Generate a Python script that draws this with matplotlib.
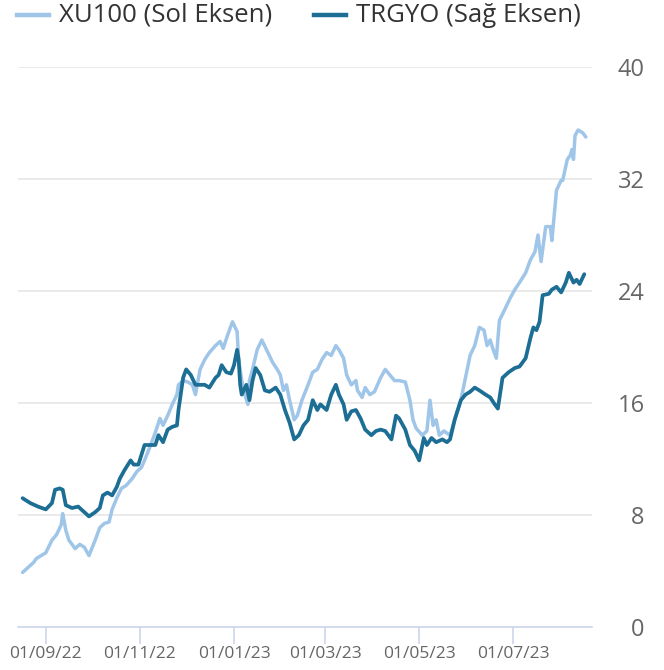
import matplotlib
matplotlib.use("Agg")
import matplotlib.pyplot as plt
import matplotlib.dates as mdates
from matplotlib.lines import Line2D
import pandas as pd

plt.rcParams['font.family'] = ['Open Sans', 'DejaVu Sans']

xu100_dates = ["2022-08-17","2022-08-20","2022-08-24","2022-08-26","2022-08-29","2022-09-01","2022-09-05",
    "2022-09-08","2022-09-11","2022-09-12","2022-09-14","2022-09-16","2022-09-20","2022-09-23","2022-09-26",
    "2022-09-29","2022-10-03","2022-10-06","2022-10-09","2022-10-12","2022-10-14","2022-10-17","2022-10-20",
    "2022-10-23","2022-10-27","2022-10-30","2022-11-02","2022-11-04","2022-11-08","2022-11-11","2022-11-14",
    "2022-11-16","2022-11-19","2022-11-22","2022-11-25","2022-11-26","2022-11-29","2022-12-02","2022-12-05",
    "2022-12-07","2022-12-10","2022-12-13","2022-12-16","2022-12-20","2022-12-23","2022-12-25","2022-12-28",
    "2022-12-31","2023-01-03","2023-01-04","2023-01-06","2023-01-08","2023-01-10","2023-01-11","2023-01-13",
    "2023-01-16","2023-01-19","2023-01-23","2023-01-26","2023-01-29","2023-01-31","2023-02-02","2023-02-04",
    "2023-02-06","2023-02-09","2023-02-11","2023-02-14","2023-02-18","2023-02-21","2023-02-24","2023-02-27",
    "2023-03-02","2023-03-05","2023-03-08","2023-03-10","2023-03-13","2023-03-15","2023-03-18","2023-03-21",
    "2023-03-22","2023-03-25","2023-03-27","2023-03-30","2023-04-02","2023-04-06","2023-04-09","2023-04-12",
    "2023-04-15","2023-04-18","2023-04-22","2023-04-25","2023-04-27","2023-04-29","2023-05-03","2023-05-06",
    "2023-05-08","2023-05-10","2023-05-12","2023-05-14","2023-05-17","2023-05-21","2023-05-24","2023-05-28",
    "2023-05-31","2023-06-03","2023-06-06","2023-06-09","2023-06-12","2023-06-14","2023-06-16","2023-06-18",
    "2023-06-20","2023-06-22","2023-06-26","2023-06-29","2023-07-02","2023-07-05","2023-07-09","2023-07-12",
    "2023-07-15","2023-07-17","2023-07-19","2023-07-22","2023-07-25","2023-07-26","2023-07-29","2023-08-01",
    "2023-08-02","2023-08-05","2023-08-07","2023-08-08","2023-08-09","2023-08-10","2023-08-12","2023-08-15",
    "2023-08-17"]
xu100_values = [3.9,4.2,4.6,4.9,5.1,5.3,6.2,
    6.6,7.3,8.1,6.9,6.2,5.6,5.9,5.7,
    5.1,6.2,7.1,7.4,7.5,8.4,9.2,9.9,
    10.1,10.6,11.1,11.4,11.9,13.0,13.9,14.9,
    14.4,15.1,15.9,16.6,17.3,17.6,17.5,17.3,
    16.6,18.4,19.1,19.6,20.1,20.4,19.9,20.9,
    21.8,21.1,19.1,17.6,16.6,15.9,17.6,18.4,
    19.8,20.5,19.6,18.9,18.4,18.0,16.9,17.3,
    16.2,14.8,15.1,16.2,17.3,18.2,18.4,19.1,
    19.6,19.4,20.1,19.8,19.2,18.0,17.3,17.6,
    16.9,16.4,17.1,16.6,16.8,17.8,18.4,18.0,
    17.6,17.6,17.5,16.2,14.8,14.2,13.7,14.0,
    16.2,14.4,14.8,13.7,14.0,13.7,14.8,16.2,
    17.8,19.4,20.1,21.4,21.2,20.1,20.5,19.8,
    19.2,21.9,22.8,23.5,24.1,24.6,25.3,26.2,
    26.8,28.0,26.1,28.6,28.6,27.6,31.2,31.9,
    31.9,33.4,33.7,34.1,33.4,35.1,35.5,35.3,
    35.0]

trgyo_dates = ["2022-08-17","2022-08-22","2022-08-27","2022-09-01","2022-09-05","2022-09-07","2022-09-10",
    "2022-09-12","2022-09-14","2022-09-18","2022-09-22","2022-09-26","2022-09-29","2022-10-03","2022-10-06",
    "2022-10-08","2022-10-11","2022-10-14","2022-10-17","2022-10-19","2022-10-22","2022-10-26","2022-10-28",
    "2022-10-31","2022-11-04","2022-11-08","2022-11-11","2022-11-13","2022-11-16","2022-11-19","2022-11-22",
    "2022-11-25","2022-11-26","2022-11-29","2022-12-01","2022-12-04","2022-12-07","2022-12-10","2022-12-13",
    "2022-12-16","2022-12-20","2022-12-22","2022-12-24","2022-12-27","2022-12-30","2023-01-01","2023-01-03",
    "2023-01-04","2023-01-05","2023-01-06","2023-01-09","2023-01-11","2023-01-13","2023-01-15","2023-01-18",
    "2023-01-21","2023-01-24","2023-01-28","2023-01-31","2023-02-03","2023-02-06","2023-02-09","2023-02-12",
    "2023-02-15","2023-02-18","2023-02-21","2023-02-24","2023-02-26","2023-03-02","2023-03-05","2023-03-08",
    "2023-03-10","2023-03-13","2023-03-15","2023-03-18","2023-03-21","2023-03-24","2023-03-27","2023-03-31",
    "2023-04-03","2023-04-06","2023-04-09","2023-04-13","2023-04-16","2023-04-18","2023-04-22","2023-04-25",
    "2023-04-28","2023-05-01","2023-05-04","2023-05-06","2023-05-09","2023-05-12","2023-05-16","2023-05-19",
    "2023-05-21","2023-05-24","2023-05-28","2023-05-31","2023-06-03","2023-06-06","2023-06-09","2023-06-13",
    "2023-06-16","2023-06-19","2023-06-21","2023-06-24","2023-06-28","2023-07-02","2023-07-05","2023-07-09",
    "2023-07-12","2023-07-14","2023-07-16","2023-07-18","2023-07-20","2023-07-24","2023-07-26","2023-07-29",
    "2023-08-01","2023-08-04","2023-08-06","2023-08-09","2023-08-11","2023-08-13","2023-08-16"]
trgyo_values = [9.2,8.85,8.6,8.4,8.85,9.8,9.9,
    9.8,8.7,8.5,8.6,8.2,7.9,8.2,8.5,
    9.4,9.6,9.4,10.0,10.6,11.2,11.9,11.6,
    11.6,13.0,13.0,13.0,13.7,13.2,14.1,14.3,
    14.4,15.5,17.8,18.4,18.0,17.3,17.3,17.3,
    17.1,17.8,18.0,18.7,18.2,18.1,18.7,19.8,
    19.1,17.3,16.6,17.3,16.2,17.6,18.5,18.0,
    16.9,16.8,17.1,16.6,15.5,14.6,13.4,13.7,
    14.4,14.8,16.2,15.5,15.9,15.5,16.6,17.3,
    16.6,15.9,14.8,15.4,15.5,14.9,14.1,13.7,
    14.0,14.1,14.0,13.4,15.1,14.9,14.1,13.0,
    12.6,11.9,13.5,13.0,13.5,13.2,13.4,13.2,
    13.4,14.8,16.2,16.6,16.8,17.1,16.9,16.6,
    16.4,15.9,15.6,17.8,18.2,18.5,18.6,19.2,
    20.6,21.4,21.2,21.8,23.7,23.8,24.1,24.3,
    23.9,24.6,25.3,24.6,24.8,24.5,25.2]

y_ticks = [0, 8, 16, 24, 32, 40]
x_ticks = ["2022-09-01","2022-11-01","2023-01-01","2023-03-01","2023-05-01","2023-07-01"]
series_names = ["XU100 (Sol Eksen)", "TRGYO (Sağ Eksen)"]

light = "#9fc5e8"
dark = "#1c6e94"

W, H = 664, 670
fig = plt.figure(figsize=(W/100, H/100), dpi=100)
ax = fig.add_axes([18/W, 43/H, (592-18)/W, (627-67)/H])
ax2 = ax.twinx()

xd = pd.to_datetime(xu100_dates)
td = pd.to_datetime(trgyo_dates)

ax.plot(xd, xu100_values, color=light, lw=2.5, solid_joinstyle='round', solid_capstyle='round', zorder=3)
ax2.plot(td, trgyo_values, color=dark, lw=2.7, solid_joinstyle='round', solid_capstyle='round', zorder=4)

for a in (ax, ax2):
    a.set_ylim(0, 40)
    for s in a.spines.values():
        s.set_visible(False)
ax.set_xlim(pd.Timestamp("2022-08-14"), pd.Timestamp("2023-08-21"))

ax.set_yticks(y_ticks)
ax.tick_params(axis='y', left=False, labelleft=False)
ax.grid(axis='y', color='#e6e6e6', lw=1.2)
ax.set_axisbelow(True)

# right axis labels, right-aligned
ax2.set_yticks(y_ticks)
ax2.set_yticklabels([str(v) for v in y_ticks])
ax2.tick_params(axis='y', right=False, labelright=True, labelsize=17, labelcolor='#666666',
                pad=(640 - 592) * 0.72)
for lab in ax2.get_yticklabels():
    lab.set_horizontalalignment('right')

ax.spines['bottom'].set_visible(True)
ax.spines['bottom'].set_color('#ccd6eb')
ax.spines['bottom'].set_linewidth(1.2)
ax.set_xticks(pd.to_datetime(x_ticks))
ax.xaxis.set_major_formatter(mdates.DateFormatter('%d/%m/%y'))
ax.tick_params(axis='x', length=12, width=1.2, color='#ccd6eb', labelsize=12.5,
               labelcolor='#666666', pad=2)

# legend (drawn in figure pixel coordinates)
leg_y = 1 - 15/H
for (x0, x1, xt), col, name in zip([(17, 49, 59), (314, 346, 356)], [light, dark], series_names):
    fig.add_artist(Line2D([x0/W, x1/W], [leg_y, leg_y], color=col, lw=3.2,
                          transform=fig.transFigure))
    fig.text(xt/W, leg_y, name, fontsize=18.5, color='#333333', va='center', ha='left')

fig.savefig("out.png", dpi=100, facecolor='white')
